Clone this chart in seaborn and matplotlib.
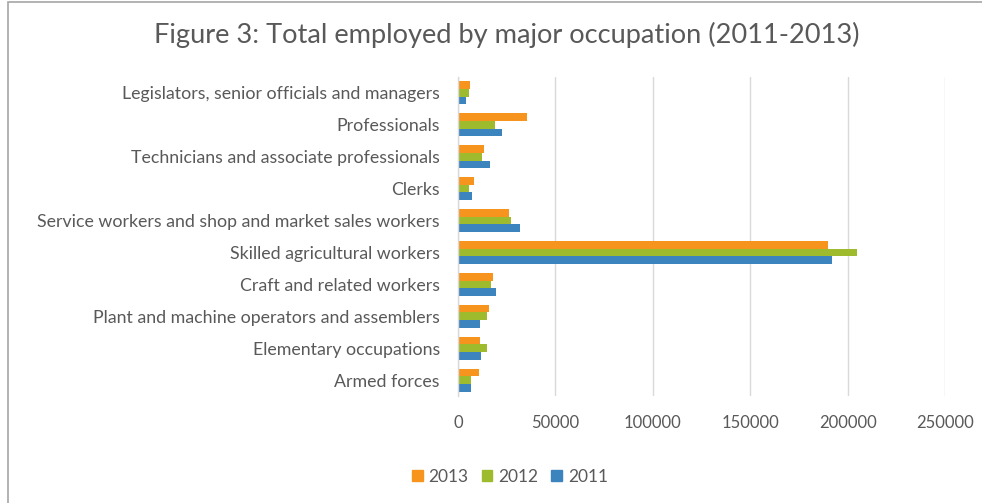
import matplotlib
matplotlib.use("Agg")
import matplotlib.pyplot as plt
import matplotlib.patches as mpatches
import seaborn as sns
import pandas as pd

occupations = [
    "Legislators, senior officials and managers",
    "Professionals",
    "Technicians and associate professionals",
    "Clerks",
    "Service workers and shop and market sales workers",
    "Skilled agricultural workers",
    "Craft and related workers",
    "Plant and machine operators and assemblers",
    "Elementary occupations",
    "Armed forces",
]
years = ["2013", "2012", "2011"]
employed_2013 = [6200, 35400, 13500, 8000, 26200, 190000, 17900, 15900, 11300, 10800]
employed_2012 = [5600, 19000, 12300, 5500, 27400, 205000, 16800, 14700, 15000, 6600]
employed_2011 = [4100, 22600, 16400, 7000, 31800, 192000, 19500, 11300, 11800, 6800]
xticks = [0, 50000, 100000, 150000, 200000, 250000]
palette = {"2013": "#F7941D", "2012": "#9DBB2C", "2011": "#3B84BE"}

df = pd.DataFrame({
    "occupation": occupations * 3,
    "year": ["2013"] * 10 + ["2012"] * 10 + ["2011"] * 10,
    "employed": employed_2013 + employed_2012 + employed_2011,
})

sns.set_theme(style="white")
plt.rcParams["font.family"] = ["Lato", "DejaVu Sans"]
text_col = "#595959"

fig = plt.figure(figsize=(9.82, 5.03), dpi=100)
ax = fig.add_axes([458 / 982, 1 - 396 / 503, (945 - 458) / 982, (396 - 77) / 503])

sns.barplot(data=df, y="occupation", x="employed", hue="year", hue_order=years,
            order=occupations, palette=palette, orient="h", width=0.72,
            saturation=1, linewidth=0, ax=ax, legend=False)

ax.set_xlim(0, 250000)
ax.set_xticks(xticks)
ax.set_xticklabels([str(t) for t in xticks])
ax.grid(axis="x", color="#D9D9D9", linewidth=1)
ax.set_axisbelow(True)
for s in ["top", "right", "bottom"]:
    ax.spines[s].set_visible(False)
ax.spines["left"].set_color("#D9D9D9")
ax.spines["left"].set_linewidth(1)
ax.set_xlabel("")
ax.set_ylabel("")
ax.tick_params(axis="x", colors=text_col, labelsize=12, length=0, pad=14)
ax.tick_params(axis="y", colors=text_col, labelsize=12.8, length=0, pad=13)

fig.text(507 / 982, 1 - 35 / 503, "Figure 3: Total employed by major occupation (2011-2013)",
         ha="center", va="center", fontsize=19.6, color=text_col)

handles = [mpatches.Patch(color=palette[y], label=y) for y in years]
fig.legend(handles=handles, loc="center", bbox_to_anchor=(510 / 982, 1 - 477 / 503),
           ncol=3, frameon=False, fontsize=12.5, labelcolor=text_col,
           handlelength=0.6, handleheight=0.6, handletextpad=0.35, columnspacing=0.75)

# chart frame
fig.patches.append(mpatches.Rectangle((8 / 982, -0.1), 1.2, 1 - 2 / 503 + 0.1,
                                      transform=fig.transFigure, fill=False,
                                      edgecolor="#A6A6A6", linewidth=1.2))

fig.savefig("out.png", dpi=100, facecolor="white")
